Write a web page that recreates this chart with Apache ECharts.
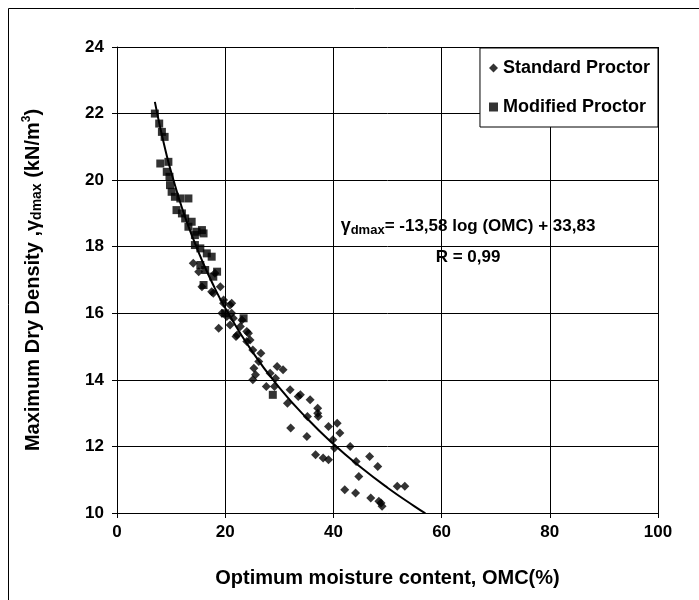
<!DOCTYPE html>
<html>
<head>
<meta charset="utf-8">
<script src="https://cdn.jsdelivr.net/npm/echarts@6/dist/echarts.min.js"></script>
<style>
html,body{margin:0;padding:0;background:#fff;}
#chart{width:699px;height:600px;}
</style>
</head>
<body>
<div id="chart"></div>
<script>
// Standard Proctor (diamonds): [OMC %, gamma_dmax kN/m3]
var standardProctor = [
  [14.1,17.5],[18.1,17.2],[15.1,17.25],[15.7,16.8],[17.5,16.65],[19.1,16.8],[17.8,16.6],
  [19.7,16.4],[20.9,16.25],[19.7,16.3],[21.2,16.3],[19.4,16.0],[20.3,15.9],[18.8,15.55],
  [23.1,15.8],[20.9,15.65],[22.2,15.35],[24.0,15.45],[24.6,15.2],[21.2,16.0],[21.5,15.85],
  [22.8,15.6],[24.3,15.4],[22.0,15.3],[24.0,15.15],[25.1,14.9],[26.6,14.8],[26.2,14.55],
  [25.3,14.35],[25.6,14.15],[25.1,14.0],[29.6,14.4],[30.7,14.3],[28.3,14.2],[29.3,14.05],
  [27.6,13.8],[29.1,13.8],[32.0,13.7],[33.5,13.5],[31.5,13.3],[33.9,13.55],[35.7,13.4],
  [37.1,13.15],[37.1,13.0],[37.2,12.9],[35.2,12.9],[32.1,12.55],[35.1,12.3],[39.1,12.6],
  [40.7,12.7],[41.2,12.4],[39.9,12.2],[40.2,11.95],[43.1,12.0],[36.7,11.75],[38.1,11.65],
  [39.1,11.6],[44.2,11.55],[46.7,11.7],[48.2,11.4],[44.7,11.1],[42.1,10.7],[44.1,10.6],
  [46.9,10.45],[48.4,10.35],[49.0,10.2],[48.8,10.3],[51.8,10.8],[53.2,10.8]
];
// Modified Proctor (squares)
var modifiedProctor = [
  [7.0,22.0],[7.8,21.7],[8.3,21.45],[8.8,21.3],[8.0,20.5],[9.5,20.55],[9.2,20.25],[9.7,20.1],
  [9.8,19.85],[10.1,19.65],[10.7,19.5],[11.7,19.45],[13.2,19.45],[11.0,19.1],[12.0,19.0],
  [12.6,18.85],[13.8,18.75],[13.2,18.6],[15.7,18.5],[14.4,18.35],[14.7,18.45],[16.0,18.4],
  [14.4,18.05],[15.4,17.95],[16.6,17.8],[17.5,17.7],[15.4,17.45],[16.3,17.3],[18.5,17.25],
  [17.8,17.1],[16.0,16.85],[20.0,16.0],[23.4,15.85],[28.8,13.55]
];
// Fitted curve
var fitCurve = [
  [7,22.35],[8,21.57],[9,20.87],[10,20.25],[12,19.17],[14,18.27],[16,17.48],[18,16.78],
  [20,16.16],[25,14.85],[30,13.77],[35,12.86],[40,12.07],[45,11.38],[50,10.76],[55,10.2],[57,9.99]
];
var xTicks = {min:0, max:100, interval:20};
var yTicks = {min:10, max:24, interval:2};
var xTitle = 'Optimum moisture content, OMC(%)';
var eqLine1 = ['γ','dmax','= -13,58 log (OMC) + 33,83'];
var eqLine2 = 'R = 0,99';

var FONT = '"Liberation Sans", Arial, sans-serif';
var chart = echarts.init(document.getElementById('chart'), null, {renderer:'canvas'});
chart.setOption({
  animation:false,
  backgroundColor:'#fff',
  grid:{left:117, right:41, top:47, bottom:87, show:false},
  legend:{
    orient:'vertical', right:41, top:48,
    backgroundColor:'#fff', borderColor:'#000', borderWidth:1, borderRadius:0,
    padding:[11,8,11,9], itemGap:21, itemWidth:9, itemHeight:9,
    textStyle:{fontFamily:FONT, fontWeight:'bold', fontSize:18, color:'#000'},
    data:[{name:'Standard Proctor', icon:'diamond'},{name:'Modified Proctor', icon:'rect'}]
  },
  xAxis:{
    type:'value', min:xTicks.min, max:xTicks.max, interval:xTicks.interval,
    name:xTitle, nameLocation:'middle', nameGap:55,
    nameTextStyle:{fontFamily:FONT, fontWeight:'bold', fontSize:20, color:'#000'},
    axisLine:{show:true, lineStyle:{color:'#000', width:1}},
    axisTick:{show:true, length:5, lineStyle:{color:'#000'}},
    axisLabel:{fontFamily:FONT, fontWeight:'bold', fontSize:17, color:'#000', margin:11},
    splitLine:{show:true, lineStyle:{color:'#000', width:1}}
  },
  yAxis:{
    type:'value', min:yTicks.min, max:yTicks.max, interval:yTicks.interval,
    name:'{m|Maximum Dry Density ,γ}{s|dmax}{m| (kN/m}{p|3}{m|)}',
    nameLocation:'middle', nameGap:72, nameRotate:90,
    nameTextStyle:{fontFamily:FONT, fontWeight:'bold', fontSize:20, color:'#000',
      rich:{
        m:{fontFamily:FONT, fontWeight:'bold', fontSize:20, color:'#000', lineHeight:24, verticalAlign:'middle'},
        s:{fontFamily:FONT, fontWeight:'bold', fontSize:14, color:'#000', lineHeight:24, verticalAlign:'bottom', padding:[0,0,1,0]},
        p:{fontFamily:FONT, fontWeight:'bold', fontSize:12, color:'#000', lineHeight:12, verticalAlign:'top'}
      }},
    axisLine:{show:true, lineStyle:{color:'#000', width:1}},
    axisTick:{show:true, length:5, lineStyle:{color:'#000'}},
    axisLabel:{fontFamily:FONT, fontWeight:'bold', fontSize:17, color:'#000', margin:13},
    splitLine:{show:true, lineStyle:{color:'#000', width:1}}
  },
  graphic:[
    {type:'rect', silent:true, z:-1, shape:{x:8.5, y:8.5, width:720, height:620},
     style:{fill:'none', stroke:'#000', lineWidth:1}},
    {type:'text', x:468, y:226, silent:true,
     style:{text:'{g|'+eqLine1[0]+'}{s|'+eqLine1[1]+'}{n|'+eqLine1[2]+'}', align:'center', verticalAlign:'middle',
       rich:{
         g:{fontFamily:FONT, fontWeight:'bold', fontSize:18, fill:'#000', lineHeight:22, verticalAlign:'middle'},
         s:{fontFamily:FONT, fontWeight:'bold', fontSize:13, fill:'#000', lineHeight:22, verticalAlign:'bottom'},
         n:{fontFamily:FONT, fontWeight:'bold', fontSize:17, fill:'#000', lineHeight:22, verticalAlign:'middle'}
       }}},
    {type:'text', x:468, y:257, silent:true,
     style:{text:eqLine2, align:'center', verticalAlign:'middle', font:'bold 17px '+FONT, fill:'#000'}}
  ],
  series:[
    {name:'Fit', type:'line', data:fitCurve, smooth:true, showSymbol:false, symbol:'none',
     lineStyle:{color:'#000', width:2}, z:3, silent:true},
    {name:'Standard Proctor', type:'scatter', data:standardProctor, symbol:'diamond', symbolSize:9,
     itemStyle:{color:'#000'}, z:4},
    {name:'Modified Proctor', type:'scatter', data:modifiedProctor, symbol:'rect', symbolSize:8,
     itemStyle:{color:'#000'}, z:4}
  ]
});
</script>
</body>
</html>
